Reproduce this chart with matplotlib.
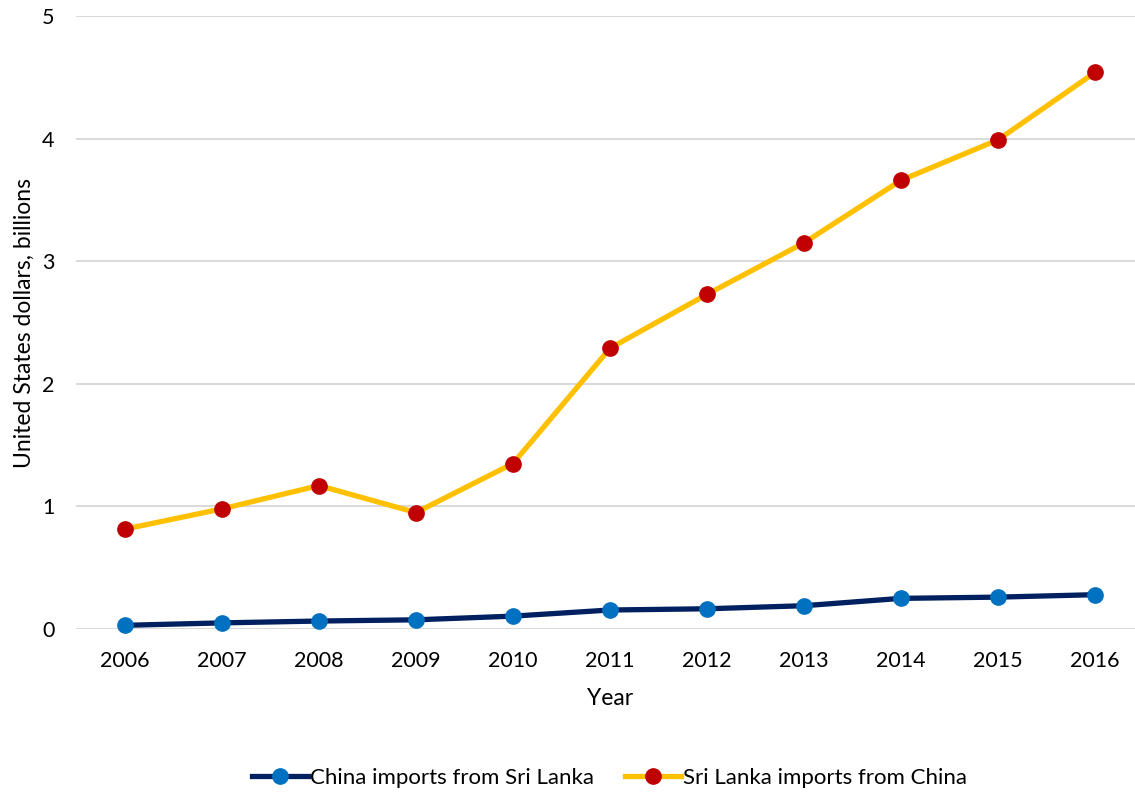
import numpy as np
import matplotlib.pyplot as plt

plt.rcParams['font.family'] = ['Lato', 'DejaVu Sans']

years = [2006, 2007, 2008, 2009, 2010, 2011, 2012, 2013, 2014, 2015, 2016]
china_from_sl = [0.03, 0.05, 0.065, 0.075, 0.105, 0.155, 0.165, 0.19, 0.25, 0.26, 0.28]
sl_from_china = [0.815, 0.98, 1.17, 0.95, 1.35, 2.29, 2.73, 3.15, 3.66, 3.99, 4.54]
yticks = [0, 1, 2, 3, 4, 5]

fig = plt.figure(figsize=(11.35, 7.93), dpi=100)
ax = fig.add_axes([0.0674, 0.2068, 0.9401, 0.773])

ax.plot(years, china_from_sl, '-o', color='#002060', linewidth=3.8,
        markersize=11, markerfacecolor='#0070C0', markeredgecolor='#0070C0',
        label='China imports from Sri Lanka', zorder=3, clip_on=False)
ax.plot(years, sl_from_china, '-o', color='#FFC000', linewidth=3.8,
        markersize=11, markerfacecolor='#C00000', markeredgecolor='#C00000',
        label='Sri Lanka imports from China', zorder=3, clip_on=False)

ax.set_xlim(2005.5, 2016.5)
ax.set_ylim(0, 5)
ax.set_xticks(years)
ax.set_yticks(yticks)
ax.tick_params(axis='both', length=0, labelsize=15.5, colors='black')
ax.tick_params(axis='y', pad=16)
ax.tick_params(axis='x', pad=16)
ax.grid(axis='y', color='#D9D9D9', linewidth=1.4)
ax.set_axisbelow(True)
for s in ax.spines.values():
    s.set_visible(False)

ax.set_xlabel('Year', fontsize=16.5, labelpad=12)
ax.set_ylabel('United States dollars, billions', fontsize=16.5, labelpad=5)

fig.legend(loc='center', bbox_to_anchor=(0.537, 0.019), ncol=2, frameon=False,
           fontsize=16, handlelength=2.5, handletextpad=0.1, columnspacing=1.4)

fig.savefig('out.png', dpi=100)
